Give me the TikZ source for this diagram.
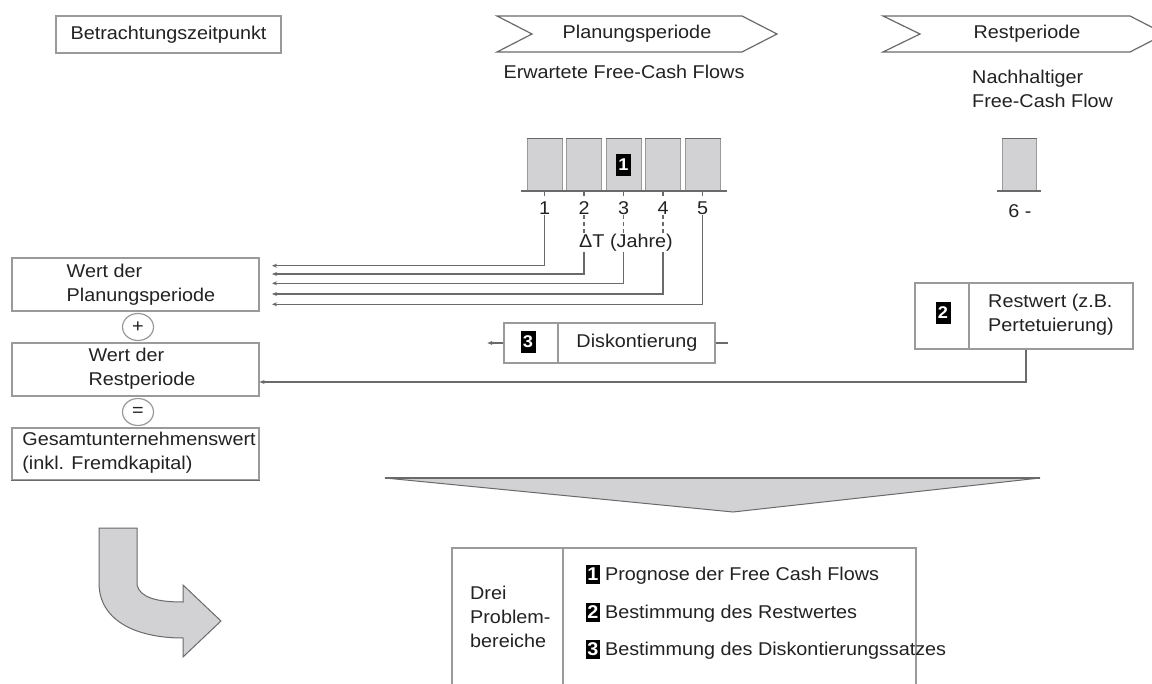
\documentclass[tikz,border=0pt]{standalone}
\usepackage{fontspec}
\setmainfont{Liberation Sans}[FakeStretch=1.07]
\usetikzlibrary{shapes.geometric,arrows.meta,calc}
\definecolor{ink}{HTML}{222222}
\definecolor{edge}{HTML}{9A9A9A}
\definecolor{wire}{HTML}{6A6A6A}
\definecolor{barfill}{HTML}{D2D2D4}
\newcommand\numtag[1]{{\fboxsep=1.2pt\colorbox{black}{\rule[-2pt]{0pt}{16pt}\textcolor{white}{\bfseries #1}}}}

\begin{document}
\begin{tikzpicture}[x=1pt,y=-1pt,
  every node/.style={font=\fontsize{18.5}{24}\selectfont, text=ink, inner sep=0pt},
  box/.style={draw=edge, line width=1.2pt, fill=white},
  wirestyle/.style={draw=wire, line width=1.1pt},
  tip/.style={wirestyle, -{Stealth[length=5pt,width=4pt]}},
  numbox/.style={fill=black, text=white, font=\fontsize{17}{17}\selectfont\bfseries, minimum width=15pt, minimum height=22pt},
  op/.style={ellipse, draw=edge, line width=1.2pt, fill=white, minimum width=31pt, minimum height=27pt},
  bar/.style={draw=edge, line width=1pt, fill=barfill, minimum width=35pt, minimum height=52pt},
  chev/.style={draw=wire, line width=1.2pt, fill=white},
  shade/.style={draw=wire, line width=1pt, fill=barfill},
]
\useasboundingbox (0,0) rectangle (1152,684);
\clip (0,0) rectangle (1152,684);
\fill[white] (0,0) rectangle (1152,684);

% ---------- header ----------
\node[box, minimum width=225pt, minimum height=37pt] (bz) at (168.5,34.5) {Betrachtungszeitpunkt};

\draw[chev] (497,16) -- (742,16) -- (777,34) -- (742,52) -- (497,52) -- (532,34) -- cycle;
\node (pp) at (637,34) {Planungsperiode};
\node (efc) at (624,72) {Erwartete Free-Cash Flows};

\draw[chev] (883,16) -- (1130,16) -- (1165,34) -- (1130,52) -- (883,52) -- (920,34) -- cycle;
\node (rp) at (1027,34) {Restperiode};
\node[align=left, anchor=north west] (nfc) at (972,70) {Nachhaltiger\\Free-Cash Flow};

% ---------- cash flow bars ----------
\foreach \i/\x in {1/544.5,2/584,3/623.5,4/663,5/702.5} {
  \node[bar] (b\i) at (\x,165) {};
  \draw[wire, line width=1.6pt] (b\i.north west) -- (b\i.north east);
  \draw[wirestyle] (b\i.south) -- ++(0,5);
  \node (n\i) at ([yshift=-17pt]b\i.south) {\i};
}
\draw[wirestyle] (521,191) -- (727,191);
\node[numbox] (m1) at (b3.center) {1};

\node[bar, minimum width=34pt] (b6) at (1019,165) {};
\draw[wire, line width=1.6pt] (b6.north west) -- (b6.north east);
\draw[wirestyle] (997,191) -- (1041,191);
\node (n6) at (1020,211) {6 -};

\node (dt) at (626,243) {ΔT (Jahre)};

% ---------- left column ----------
\node[box, minimum width=247pt, minimum height=53pt] (wp) at (135.5,284.5) {};
\node[align=left] (wpt) at (141,285) {Wert der\\Planungsperiode};
\node[op] (plus) at (138,327) {+};
\node[box, minimum width=247pt, minimum height=53pt] (wr) at (135.5,369.5) {};
\node[align=left] (wrt) at (142,368.5) {Wert der\\Restperiode};
\node[op] (eq) at (138,412) {=};
\node[box, minimum width=247pt, minimum height=52pt] (gw) at (135.5,454) {};
\draw[wire, line width=1.6pt] (gw.south west) -- (gw.south east);
\node[align=left] (gwt) at (139,452.5) {Gesamtunternehmenswert\\(inkl. Fremdkapital)};

% ---------- timeline connectors ----------
\coordinate (e1) at (272,265.7);
\coordinate (e2) at (272,274);
\coordinate (e3) at (272,283.3);
\coordinate (e4) at (272,294);
\coordinate (e5) at (272,304.3);
\draw[tip] (n1.south) |- (e1);
\foreach \i in {2,3,4} {
  \draw[wirestyle, dash pattern=on 4pt off 3pt] (n\i.south) -- (n\i.south |- dt.north);
  \draw[tip] (n\i.south |- dt.south) |- (e\i);
}
\draw[tip] (n5.south) |- (e5);

% ---------- discounting ----------
\node[box, minimum width=211pt, minimum height=40pt] (dk) at (609.5,343) {};
\draw[draw=edge, line width=1.2pt] (dk.north -| 558,0) -- (dk.south -| 558,0);
\node[numbox] (m3) at (528,342) {3};
\node (dkt) at (637,343) {Diskontierung};
\draw[tip] (dk.west) -- ++(-16,0);
\draw[wirestyle] (dk.east) -- ++(12,0);

% ---------- terminal value ----------
\node[box, minimum width=218pt, minimum height=66pt] (rw) at (1024,316) {};
\draw[draw=edge, line width=1.2pt] (rw.north -| 969,0) -- (rw.south -| 969,0);
\node[numbox] (m2) at (943,313) {2};
\node[align=left, anchor=west] (rwt) at (988,315) {Restwert (z.B.\\Pertetuierung)};
\coordinate (er) at (wr.east |- 0,382);
\draw[tip] (rw.south -| 1026,0) |- (er);

% ---------- funnel arrow ----------
\draw[shade] (385,478) -- (1040,478) -- (733,512) -- cycle;
\draw[wire, line width=1.6pt] (385,478) -- (1040,478);

% ---------- curved arrow ----------
\draw[shade] (99,528) -- (137,528) -- (137,585)
  .. controls (140,598) and (158,602) .. (183,602)
  -- (183,585) -- (221,621) -- (183,657) -- (183,638)
  .. controls (135,638) and (99,620) .. (99,583) -- cycle;

% ---------- problem areas ----------
\draw[draw=edge, line width=1.2pt] (452,690) |- (916,548) -- (916,690);
\draw[draw=edge, line width=1.2pt] (563,548) -- (563,690);
\node[align=left, anchor=west] (drei) at (470,617) {Drei\\Problem-\\bereiche};
\node[anchor=west] (p1) at (586,575) {\numtag{1} Prognose der Free Cash Flows};
\node[anchor=west] (p2) at (586,613) {\numtag{2} Bestimmung des Restwertes};
\node[anchor=west] (p3) at (586,650) {\numtag{3} Bestimmung des Diskontierungssatzes};
\end{tikzpicture}
\end{document}
